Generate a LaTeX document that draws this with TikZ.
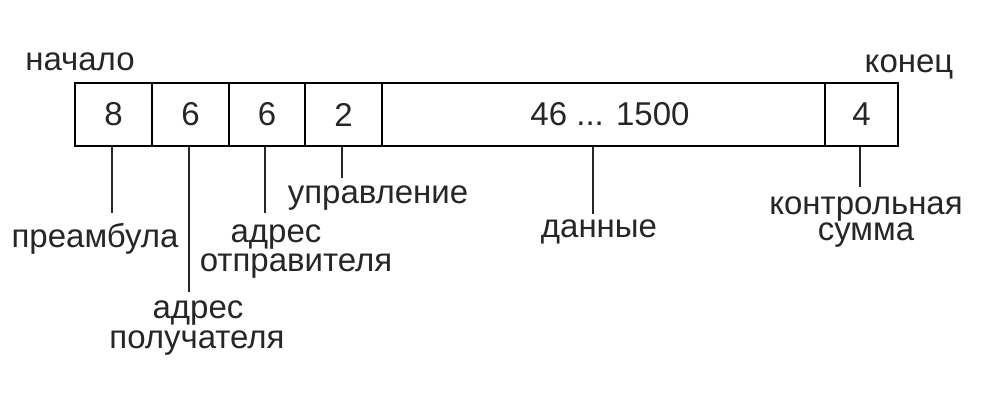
\documentclass[tikz,border=0pt]{standalone}
\usepackage{fontspec}
\setmainfont{Liberation Sans}
\begin{document}
\begin{tikzpicture}[x=1pt,y=-1pt,
  cell/.style={draw, line width=1.7pt, minimum height=63pt, inner sep=0pt, font=\fontsize{33}{38}\selectfont, text=black!85},
  lbl/.style={anchor=base, inner sep=0pt, font=\fontsize{33}{38}\selectfont, text=black!85},
  lead/.style={line width=1.7pt, black!85}]
\useasboundingbox (0,0) rectangle (987,418);
% cells
\node[cell, minimum width=77pt] (c1) at (113.5,114.5) {8};
\node[cell, minimum width=77pt] (c2) at (190.5,114.5) {6};
\node[cell, minimum width=76pt] (c3) at (267,114.5) {6};
\node[cell, minimum width=77pt] (c4) at (343.5,114.5) {2};
\node[cell, minimum width=443pt] (c5) at (603.5,114.5) {\hspace*{13pt}46 ... 1500};
\node[cell, minimum width=73pt] (c6) at (861.5,114.5) {4};
% top labels
\node[lbl] (start) at (80,70) {начало};
\node[lbl] (end) at (909,72) {конец};
% bottom labels
\node[lbl] (pre) at (95,247) {преамбула};
\node[lbl] (dst1) at (198,318) {адрес};
\node[lbl] (dst2) at (197,348) {получателя};
\node[lbl] (src1) at (276,242) {адрес};
\node[lbl] (src2) at (296,271) {отправителя};
\node[lbl] (ctl) at (378,203) {управление};
\node[lbl] (dat) at (599,237) {данные};
\node[lbl] (crc1) at (866,214) {контрольная};
\node[lbl] (crc2) at (866,240) {сумма};
% leader ends
\coordinate (e1) at (112,213);
\coordinate (e2) at (189,292);
\coordinate (e3) at (265,213);
\coordinate (e4) at (342,178);
\coordinate (e5) at (593,214);
\coordinate (e6) at (860,187);
\draw[lead] (e1 |- c1.south) -- (e1);
\draw[lead] (e2 |- c2.south) -- (e2);
\draw[lead] (e3 |- c3.south) -- (e3);
\draw[lead] (e4 |- c4.south) -- (e4);
\draw[lead] (e5 |- c5.south) -- (e5);
\draw[lead] (e6 |- c6.south) -- (e6);
\end{tikzpicture}
\end{document}
